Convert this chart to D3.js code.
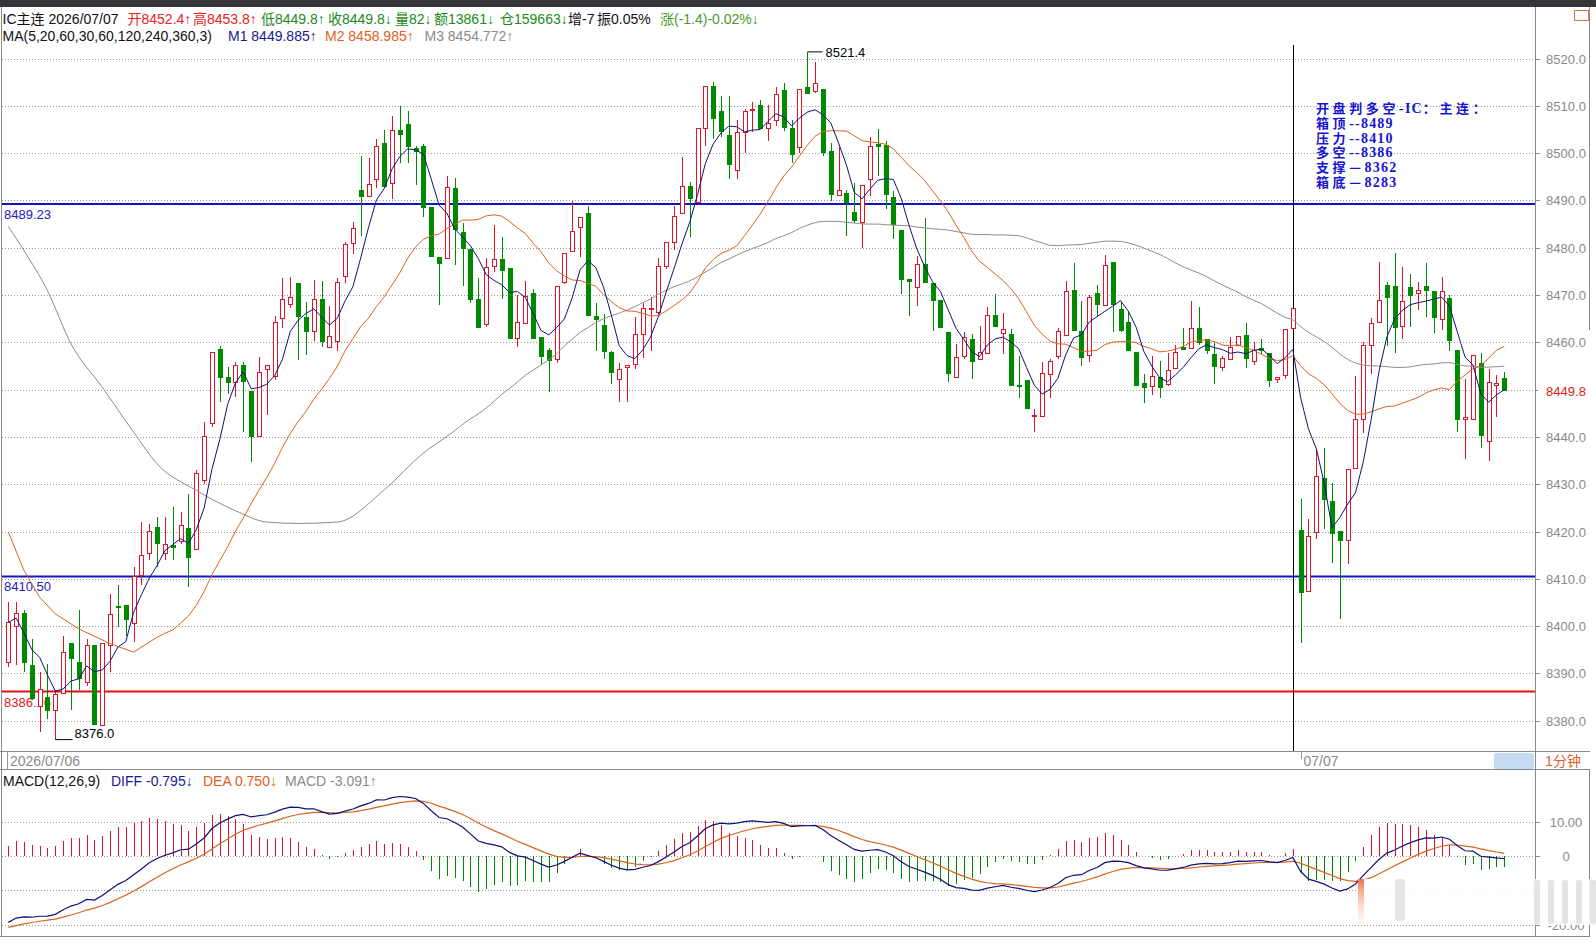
<!DOCTYPE html>
<html>
<head>
<meta charset="utf-8">
<script src="https://cdn.jsdelivr.net/npm/d3@7"></script>
<style>
  body { margin: 0; background: #fff; }
  svg { display: block; font-family: Arial, "Liberation Sans", "Noto Sans CJK SC", sans-serif; }
</style>
</head>
<body>
<div id="chart"></div>
<script>
// 1-minute bars, IC main contract, 07/06 afternoon + 07/07 open
const opens = [8392.4,8399.9,8402.6,8391.7,8382.9,8385.0,8382.2,8385.7,8396.3,8392.4,
 8388.0,8395.9,8379.0,8395.9,8404.2,8404.4,8400.5,8410.7,8415.3,8420.9,
 8415.3,8417.0,8417.8,8420.6,8416.3,8430.8,8442.8,8458.5,8452.6,8451.6,
 8455.2,8449.5,8440.0,8454.3,8452.8,8465.1,8468.0,8472.4,8465.3,8462.3,
 8469.0,8458.9,8460.2,8473.9,8480.8,8492.0,8490.8,8494.5,8502.0,8493.6,
 8504.7,8506.0,8501.0,8501.5,8488.6,8478.0,8477.8,8492.6,8483.3,8479.6,
 8469.0,8463.7,8476.0,8477.6,8475.7,8460.9,8463.9,8470.3,8461.0,8458.2,
 8456.4,8472.6,8479.1,8484.3,8487.2,8465.5,8463.5,8457.9,8452.2,8454.7,
 8455.4,8461.7,8466.9,8466.4,8476.0,8481.2,8487.2,8492.9,8489.6,8505.2,
 8514.1,8508.9,8503.7,8496.3,8504.4,8509.0,8510.1,8505.2,8506.8,8513.2,
 8505.2,8501.2,8513.9,8513.0,8513.5,8500.3,8491.1,8491.5,8487.4,8485.3,
 8494.5,8501.8,8501.7,8490.6,8483.6,8473.3,8471.6,8476.5,8472.5,8468.8,
 8462.1,8452.6,8457.1,8460.5,8456.4,8457.7,8465.7,8461.9,8461.7,8450.8,
 8452.0,8444.5,8444.3,8453.2,8457.0,8461.5,8471.0,8462.2,8457.2,8470.3,
 8467.7,8476.8,8467.0,8464.1,8457.8,8451.3,8450.6,8452.5,8451.0,8454.4,
 8458.9,8458.6,8462.9,8460.6,8457.5,8454.6,8456.3,8459.4,8461.5,8456.0,
 8458.6,8457.7,8452.2,8452.9,8462.9,8420.2,8407.3,8419.7,8431.2,8426.4,
 8420.1,8418.0,8433.3,8443.7,8459.4,8464.1,8472.0,8471.8,8463.3,8471.5,
 8470.3,8471.9,8470.8,8464.8,8469.2,8458.3,8443.7,8443.7,8455.5,8439.0,
 8450.8,8452.4];
const highs = [8405.1,8405.1,8403.3,8397.3,8390.3,8392.0,8386.4,8398.0,8396.3,8403.3,
 8397.3,8395.9,8396.4,8406.8,8408.7,8404.4,8412.5,8422.0,8421.6,8423.0,
 8423.0,8425.2,8424.1,8428.0,8432.9,8443.1,8457.8,8459.3,8454.7,8455.8,
 8455.9,8449.5,8456.9,8455.3,8465.5,8473.6,8473.8,8472.4,8468.6,8473.2,
 8472.9,8467.6,8473.6,8481.3,8485.4,8499.3,8498.9,8503.0,8504.9,8507.9,
 8509.9,8508.8,8501.4,8501.9,8488.6,8478.0,8495.2,8494.7,8485.2,8479.6,
 8473.6,8477.8,8484.9,8482.3,8475.7,8470.1,8472.9,8471.2,8461.0,8458.9,
 8471.9,8478.8,8489.9,8486.4,8488.9,8468.4,8466.0,8458.2,8455.7,8455.2,
 8465.3,8468.4,8469.5,8477.9,8481.2,8488.9,8499.1,8493.9,8505.2,8514.1,
 8515.1,8512.0,8512.0,8507.0,8509.4,8510.8,8511.3,8510.1,8513.9,8514.8,
 8507.0,8513.4,8521.4,8519.2,8513.5,8502.1,8501.2,8492.2,8493.6,8493.1,
 8503.3,8505.1,8502.6,8492.0,8483.6,8473.3,8478.3,8486.2,8472.5,8468.8,
 8462.1,8459.6,8462.1,8461.7,8463.5,8467.4,8470.2,8466.3,8462.9,8457.1,
 8452.0,8446.0,8455.9,8456.4,8463.1,8473.0,8476.7,8468.7,8469.9,8472.2,
 8478.4,8476.8,8468.7,8466.6,8457.8,8453.4,8457.0,8456.0,8457.7,8459.4,
 8463.1,8468.7,8467.5,8460.6,8459.8,8457.2,8461.2,8461.2,8464.1,8460.1,
 8460.6,8457.7,8452.5,8462.7,8467.1,8426.8,8422.6,8437.4,8437.7,8430.3,
 8420.1,8433.1,8452.9,8460.1,8465.2,8477.0,8472.7,8478.9,8476.0,8474.5,
 8472.8,8476.7,8470.8,8473.7,8470.1,8458.3,8452.2,8457.2,8457.7,8454.4,
 8453.0,8453.8];
const lows = [8391.3,8391.7,8390.3,8384.3,8377.6,8380.4,8376.0,8385.7,8382.2,8386.4,
 8387.4,8379.0,8379.0,8390.3,8399.8,8398.0,8396.6,8408.6,8413.9,8412.5,
 8413.9,8413.9,8417.4,8408.2,8416.3,8430.1,8442.1,8447.4,8449.1,8448.4,
 8441.0,8434.7,8440.0,8444.7,8452.1,8463.0,8467.2,8456.3,8457.4,8460.2,
 8459.1,8458.8,8458.1,8472.5,8478.7,8482.4,8490.8,8492.6,8492.6,8490.4,
 8497.9,8497.9,8493.3,8486.4,8478.1,8467.9,8477.8,8476.4,8471.9,8468.3,
 8463.2,8463.2,8474.9,8469.1,8460.9,8459.1,8463.8,8460.8,8455.4,8449.4,
 8455.7,8472.3,8479.1,8478.1,8465.5,8458.2,8456.4,8451.2,8447.3,8447.3,
 8454.3,8456.6,8458.2,8466.0,8475.5,8479.6,8487.2,8482.2,8489.4,8501.4,
 8503.0,8503.3,8494.6,8494.6,8500.1,8504.5,8505.1,8502.6,8505.8,8504.7,
 8497.9,8500.1,8512.5,8512.7,8499.4,8489.9,8491.1,8482.4,8485.3,8480.0,
 8491.0,8495.2,8488.1,8481.8,8470.2,8465.6,8467.7,8472.6,8462.4,8463.1,
 8451.6,8452.6,8456.4,8452.3,8456.4,8457.5,8463.3,8457.5,8450.8,8448.3,
 8445.9,8441.1,8444.3,8448.3,8456.4,8461.5,8462.4,8455.0,8455.8,8465.6,
 8467.7,8462.2,8462.2,8458.2,8450.8,8447.2,8448.9,8448.3,8450.8,8454.3,
 8458.4,8458.6,8459.4,8457.5,8451.1,8453.9,8456.3,8459.4,8454.6,8455.3,
 8457.5,8450.6,8451.5,8452.2,8462.9,8396.5,8407.3,8418.5,8420.5,8413.3,
 8401.6,8413.1,8433.3,8440.9,8453.2,8464.1,8459.2,8457.8,8460.6,8463.3,
 8466.8,8465.4,8461.9,8462.7,8458.2,8441.0,8435.4,8443.7,8437.7,8434.9,
 8444.3,8449.8];
const closes = [8400.8,8402.6,8392.2,8384.6,8386.7,8382.2,8385.5,8394.5,8393.1,8388.9,
 8395.9,8379.3,8396.4,8402.4,8403.9,8401.5,8410.4,8414.9,8419.9,8417.4,
 8417.2,8416.7,8421.3,8414.6,8432.2,8440.0,8457.8,8452.6,8451.6,8455.1,
 8451.7,8440.0,8453.7,8455.2,8464.1,8469.0,8469.5,8465.5,8462.3,8469.1,
 8460.2,8461.2,8472.7,8480.6,8484.1,8490.8,8493.4,8501.5,8492.9,8504.7,
 8504.0,8501.4,8500.3,8488.6,8478.1,8476.6,8492.8,8483.8,8479.9,8469.0,
 8463.2,8475.8,8477.6,8475.2,8460.9,8464.2,8469.6,8460.8,8457.1,8456.1,
 8471.9,8478.8,8483.4,8486.4,8465.7,8464.8,8458.0,8453.6,8454.3,8455.2,
 8461.7,8467.2,8467.2,8476.0,8481.1,8486.6,8492.9,8490.3,8505.2,8514.1,
 8507.3,8504.5,8497.5,8504.4,8508.7,8509.2,8505.1,8506.3,8512.3,8505.4,
 8499.6,8513.4,8512.6,8514.8,8500.1,8491.2,8492.0,8489.6,8485.7,8493.1,
 8501.5,8501.4,8491.3,8484.8,8473.3,8472.8,8476.5,8472.6,8468.8,8463.1,
 8453.4,8456.8,8461.0,8455.9,8457.8,8465.7,8463.3,8462.8,8450.8,8450.6,
 8445.9,8444.6,8453.3,8455.9,8462.2,8470.7,8462.4,8456.7,8469.4,8467.9,
 8476.3,8467.9,8462.6,8458.2,8450.8,8450.4,8452.7,8450.4,8454.1,8457.8,
 8458.5,8462.9,8459.9,8458.2,8454.8,8456.6,8458.9,8461.2,8456.5,8458.2,
 8458.2,8452.0,8452.5,8462.7,8467.1,8407.1,8418.9,8431.7,8426.7,8419.5,
 8418.0,8433.1,8443.7,8459.4,8464.0,8468.9,8469.4,8463.1,8468.6,8469.8,
 8471.0,8471.0,8465.2,8470.8,8460.3,8443.7,8444.1,8457.2,8440.2,8451.5,
 8451.3,8449.8];

const dayBreak = 164;            // bar where the 07/07 divider is drawn
const priceTicks = d3.range(8380, 8521, 10);
const macdTicks = [10, 0, -10, -20];
const macdLabels = [[10, "10.00"], [0, "0"], [-20, "-20.00"]];

// MA20 / MA60 before their window fills: values [bar, value]
const ma20Head = [[0, 8419.9], [2, 8411.8], [4, 8406.1], [6, 8402.6], [9, 8399.4], [13, 8396.3], [16, 8394.5]];
const ma60Head = [[0, 8484.5], [2, 8479.4], [5, 8470.9], [8, 8459.7], [12, 8450.5], [16, 8441.0], [19, 8434.3],
                  [24, 8428.7], [29, 8424.4], [33, 8422.0], [37, 8421.7], [42, 8422.0], [48, 8428.8], [53, 8436.6], [56, 8440.1]];
// EMA state just before the first bar (read from where DIFF/DEA start)
const macdSeed = { ema12: 8405.5, ema26: 8426.0, dea: -21.2 };

const levels = [
  { v: 8489.23, label: "8489.23", color: "#1414c0", text: "#2020c8" },
  { v: 8410.50, label: "8410.50", color: "#1414c0", text: "#2020c8" },
  { v: 8386.16, label: "8386.16", color: "#e01010", text: "#e02020" }
];
const notes = ["开盘判多空-IC：主连：", "箱顶--8489", "压力--8410", "多空--8386", "支撑—8362", "箱底—8283"];

const header1 = [
  ["IC主连", "#111", 2.5], ["2026/07/07", "#111", 48.5], ["开8452.4↑", "#e8221c", 127.5], ["高8453.8↑", "#e8221c", 193],
  ["低8449.8↑", "#1a8a1a", 261], ["收8449.8↓", "#1a8a1a", 328], ["量82↓", "#1a8a1a", 395], ["额13861↓", "#1a8a1a", 434],
  ["仓159663↓", "#1a8a1a", 500], ["增-7", "#111", 568], ["振0.05%", "#111", 597], ["涨(-1.4)-0.02%↓", "#4a9a2a", 660]
];
const header2 = [
  ["MA(5,20,60,30,60,120,240,360,3)", "#111", 2.5], ["M1 8449.885↑", "#1a1a90", 228],
  ["M2 8458.985↑", "#e0601a", 325], ["M3 8454.772↑", "#8a8a8a", 424.5]
];
const macdHeader = [
  ["MACD(12,26,9)", "#111", 3], ["DIFF -0.795↓", "#1a1a90", 111], ["DEA 0.750↓", "#e0601a", 203], ["MACD -3.091↑", "#8a8a8a", 285]
];

const width = 1596, height = 942;
const plotRight = 1535;
const main = { top: 45, bottom: 751 };
const dateBar = { top: 751.5, bottom: 769.5 };
const macdBox = { top: 770, bottom: 936 };

const red = "#e0142a", green = "#008a00";
const ma5Color = "#10107a", ma20Color = "#d8651e", ma60Color = "#8c8c8c";

const n = closes.length;
const x = d3.scaleLinear().domain([0, n - 1]).range([8.3, 1504.3]);
const y = d3.scaleLinear().domain([8380, 8520]).range([720.7, 58.5]);
const ym = d3.scaleLinear().domain([-20, 10]).range([924.6, 821.6]);
const px = i => Math.round(x(i)) + 0.5;

// moving averages
const ma5 = closes.map((c, i) => [i, d3.mean(closes.slice(Math.max(0, i - 4), i + 1))]);
const maFull = (w, head) => head.concat(
  closes.map((c, i) => i < w - 1 ? null : [i, d3.mean(closes.slice(i - w + 1, i + 1))]).filter(d => d));
const ma20 = maFull(20, ma20Head);
const ma60 = maFull(60, ma60Head);

// MACD
let e12 = macdSeed.ema12, e26 = macdSeed.ema26, dea = macdSeed.dea;
const diffArr = [], deaArr = [], histArr = [];
closes.forEach(c => {
  e12 = (2 * c + 11 * e12) / 13;
  e26 = (2 * c + 25 * e26) / 27;
  const d = e12 - e26;
  dea = (2 * d + 8 * dea) / 10;
  diffArr.push(d); deaArr.push(dea); histArr.push(2 * (d - dea));
});

const svg = d3.select("#chart").append("svg")
  .attr("width", width).attr("height", height)
  .attr("viewBox", [0, 0, width, height]);

svg.append("rect").attr("width", width).attr("height", height).attr("fill", "#fff");
svg.append("rect").attr("width", width).attr("height", 7).attr("fill", "#34363c"); // title strip

// frame lines
const frame = svg.append("g").attr("stroke", "#8a8a8a").attr("fill", "none").attr("shape-rendering", "crispEdges");
frame.append("line").attr("x1", 1.5).attr("x2", 1.5).attr("y1", 7).attr("y2", macdBox.bottom);
frame.append("line").attr("x1", plotRight + 0.5).attr("x2", plotRight + 0.5).attr("y1", 7).attr("y2", macdBox.bottom);
frame.append("line").attr("x1", 1589.5).attr("x2", 1589.5).attr("y1", 7).attr("y2", 330);
frame.append("line").attr("x1", 1589.5).attr("x2", 1589.5).attr("y1", dateBar.bottom).attr("y2", macdBox.bottom);
[dateBar.top, dateBar.bottom, macdBox.bottom + 0.5].forEach(v =>
  frame.append("line").attr("x1", 0).attr("x2", 1590).attr("y1", v).attr("y2", v));

// grid
const grid = svg.append("g").attr("stroke", "#9a9a9a").attr("stroke-dasharray", "1,2").attr("shape-rendering", "crispEdges");
grid.selectAll(".gp").data(priceTicks).join("line")
  .attr("x1", 2).attr("x2", plotRight)
  .attr("y1", d => Math.round(y(d)) + 0.5).attr("y2", d => Math.round(y(d)) + 0.5);
grid.selectAll(".gm").data(macdTicks).join("line")
  .attr("x1", 2).attr("x2", plotRight)
  .attr("y1", d => Math.round(ym(d)) + 0.5).attr("y2", d => Math.round(ym(d)) + 0.5);

// right axis
const axisG = svg.append("g").attr("font-size", 13).attr("fill", "#8a8a8a").attr("text-anchor", "middle");
priceTicks.forEach(t => {
  axisG.append("line").attr("x1", plotRight).attr("x2", plotRight + 5)
    .attr("y1", Math.round(y(t)) + 0.5).attr("y2", Math.round(y(t)) + 0.5).attr("stroke", "#8a8a8a");
  axisG.append("text").attr("x", 1566).attr("y", y(t) + 5).text(t.toFixed(1));
});
macdLabels.forEach(([v, s]) => {
  axisG.append("line").attr("x1", plotRight).attr("x2", plotRight + 5)
    .attr("y1", Math.round(ym(v)) + 0.5).attr("y2", Math.round(ym(v)) + 0.5).attr("stroke", "#8a8a8a");
  axisG.append("text").attr("x", 1566).attr("y", ym(v) + 5).text(s);
});
axisG.append("rect").attr("x", 1538).attr("y", y(closes[n - 1]) - 8).attr("width", 50).attr("height", 16).attr("fill", "#fff");
axisG.append("text").attr("x", 1566).attr("y", y(closes[n - 1]) + 5).attr("fill", "#e01818").text(closes[n - 1].toFixed(1));
svg.append("rect").attr("x", 1574.5).attr("y", 10.5).attr("width", 14).attr("height", 10)
  .attr("fill", "none").attr("stroke", "#e07040");

// headers
const hdr = svg.append("g").attr("font-size", 14);
header1.forEach(([s, c, xx]) => hdr.append("text").attr("x", xx).attr("y", 23.5).attr("fill", c).text(s));
header2.forEach(([s, c, xx]) => hdr.append("text").attr("x", xx).attr("y", 41).attr("fill", c).text(s));
macdHeader.forEach(([s, c, xx]) => hdr.append("text").attr("x", xx).attr("y", 785.5).attr("fill", c).text(s));

// main plot
const plot = svg.append("g");
svg.append("clipPath").attr("id", "clipMain").append("rect")
  .attr("x", 2).attr("y", main.top).attr("width", plotRight - 2).attr("height", main.bottom - main.top);
plot.attr("clip-path", "url(#clipMain)");

// day divider
plot.append("line").attr("x1", px(dayBreak)).attr("x2", px(dayBreak))
  .attr("y1", main.top).attr("y2", main.bottom).attr("stroke", "#000");

// level lines
levels.forEach(l => {
  plot.append("line").attr("x1", 2).attr("x2", plotRight).attr("y1", y(l.v)).attr("y2", y(l.v))
    .attr("stroke", l.color).attr("stroke-width", 2);
  plot.append("text").attr("x", 4).attr("y", y(l.v) + 15).attr("font-size", 13).attr("fill", l.text).text(l.label);
});

// candles
const bars = d3.range(n).map(i => ({ i, o: opens[i], h: highs[i], l: lows[i], c: closes[i] }));
const candle = plot.selectAll(".candle").data(bars).join("g").attr("class", "candle")
  .attr("shape-rendering", "crispEdges");
candle.append("line")
  .attr("x1", d => px(d.i)).attr("x2", d => px(d.i))
  .attr("y1", d => y(d.h)).attr("y2", d => y(d.l))
  .attr("stroke", d => d.c >= d.o ? red : green);
candle.append("rect")
  .attr("x", d => px(d.i) - 2).attr("width", 4)
  .attr("y", d => y(Math.max(d.o, d.c)))
  .attr("height", d => Math.max(1, y(Math.min(d.o, d.c)) - y(Math.max(d.o, d.c))))
  .attr("fill", d => d.c >= d.o ? "#fff" : green)
  .attr("stroke", d => d.c >= d.o ? red : green);

// MA lines
const line = d3.line().x(d => x(d[0])).y(d => y(d[1]));
plot.append("path").datum(ma60).attr("d", line.curve(d3.curveMonotoneX)).attr("fill", "none").attr("stroke", ma60Color);
plot.append("path").datum(ma20).attr("d", line.curve(d3.curveLinear)).attr("fill", "none").attr("stroke", ma20Color);
plot.append("path").datum(ma5).attr("d", line).attr("fill", "none").attr("stroke", ma5Color);

// high / low markers
const hiIdx = d3.maxIndex(highs), loIdx = d3.minIndex(lows);
plot.append("path").attr("d", `M${px(hiIdx)},${y(highs[hiIdx])}H${px(hiIdx) + 15}`).attr("stroke", "#000").attr("fill", "none");
plot.append("text").attr("x", px(hiIdx) + 18).attr("y", y(highs[hiIdx]) + 5).attr("font-size", 13).text(highs[hiIdx].toFixed(1));
plot.append("path").attr("d", `M${px(loIdx)},${y(lows[loIdx])}H${px(loIdx) + 17}`).attr("stroke", "#000").attr("fill", "none");
plot.append("text").attr("x", px(loIdx) + 19).attr("y", y(lows[loIdx]) - 2).attr("font-size", 13).text(lows[loIdx].toFixed(1));

// note box: CJK runs and ASCII runs get different fonts/spacing
const note = svg.append("g").attr("font-weight", "bold").attr("fill", "#1616d0");
notes.forEach((s, k) => {
  const t = note.append("text").attr("x", 1316).attr("y", 113 + k * 14.8);
  (s.match(/[\x00-\x7F]+|[^\x00-\x7F]+/g) || []).forEach(run => {
    const ascii = /^[\x00-\x7F]+$/.test(run);
    t.append("tspan")
      .attr("font-family", ascii ? "'Liberation Serif', serif" : "'Noto Sans CJK SC', sans-serif")
      .attr("font-size", ascii ? 14 : 13)
      .attr("letter-spacing", ascii ? 1.2 : 3.6)
      .text(run);
  });
});

// date bar
const dateG = svg.append("g").attr("font-size", 14).attr("fill", "#8a8a8a");
dateG.append("line").attr("x1", 7.5).attr("x2", 7.5).attr("y1", dateBar.top).attr("y2", dateBar.bottom).attr("stroke", "#999");
dateG.append("text").attr("x", 10).attr("y", 766).text("2026/07/06");
dateG.append("line").attr("x1", px(dayBreak + 1)).attr("x2", px(dayBreak + 1)).attr("y1", dateBar.top).attr("y2", 759).attr("stroke", "#999");
dateG.append("text").attr("x", px(dayBreak + 1) + 2).attr("y", 766).text("07/07");
svg.append("rect").attr("x", 1494).attr("y", 753).attr("width", 40).attr("height", 16).attr("rx", 2).attr("fill", "#c3dbf3");
svg.append("text").attr("x", 1563).attr("y", 766).attr("text-anchor", "middle").attr("font-size", 14)
  .attr("fill", "#e0602a").text("1分钟");

// MACD panel
const macdG = svg.append("g");
macdG.selectAll(".hb").data(histArr).join("line")
  .attr("x1", (d, i) => px(i)).attr("x2", (d, i) => px(i))
  .attr("y1", ym(0)).attr("y2", d => ym(d))
  .attr("stroke", d => d >= 0 ? red : green).attr("shape-rendering", "crispEdges");
const mline = d3.line().x((d, i) => x(i)).y(d => ym(d));
macdG.append("path").datum(deaArr).attr("d", mline).attr("fill", "none").attr("stroke", ma20Color).attr("stroke-width", 1.2);
macdG.append("path").datum(diffArr).attr("d", mline).attr("fill", "none").attr("stroke", ma5Color).attr("stroke-width", 1.2);

// screenshot watermark in the lower right corner
const defs = svg.append("defs");
const grad = defs.append("linearGradient").attr("id", "wmGrad").attr("x1", 0).attr("x2", 0).attr("y1", 0).attr("y2", 1);
grad.append("stop").attr("offset", 0).attr("stop-color", "#f06a3a").attr("stop-opacity", 0.95);
grad.append("stop").attr("offset", 0.5).attr("stop-color", "#f8b090").attr("stop-opacity", 0.6);
grad.append("stop").attr("offset", 1).attr("stop-color", "#fde6dc").attr("stop-opacity", 0.3);
const wm = svg.append("g");
wm.append("rect").attr("x", 1358).attr("y", 879).attr("width", 238).attr("height", 46).attr("fill", "#fff").attr("opacity", 0.86);
wm.append("rect").attr("x", 1358).attr("y", 879).attr("width", 6).attr("height", 44).attr("fill", "url(#wmGrad)");
wm.append("rect").attr("x", 1395).attr("y", 879).attr("width", 10).attr("height", 42).attr("rx", 3).attr("fill", "#e6e6e6");
[1534, 1548, 1562, 1576, 1590].forEach(v =>
  wm.append("rect").attr("x", v).attr("y", 880).attr("width", 6).attr("height", 44).attr("rx", 2).attr("fill", "#e4e4e4"));
</script>
</body>
</html>
